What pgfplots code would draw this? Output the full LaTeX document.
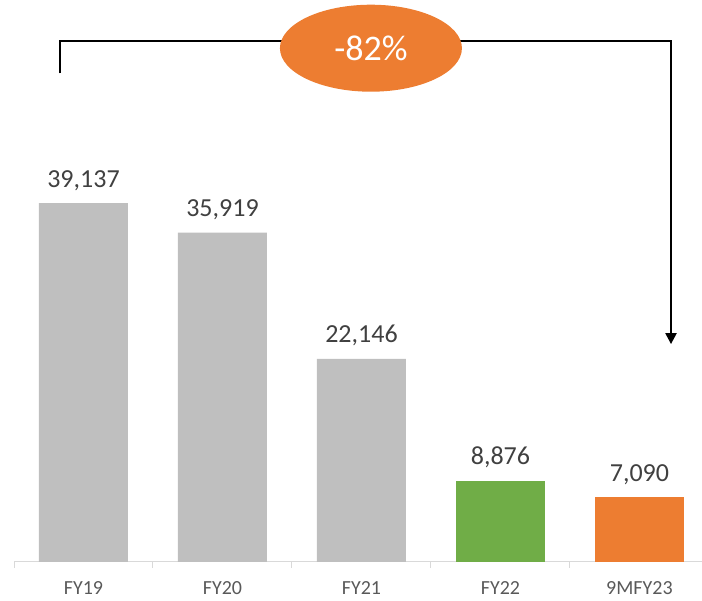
\documentclass[border=0pt]{standalone}
\usepackage{pgfplots}
\pgfplotsset{compat=1.18}
\usepackage{fontspec}
\setmainfont{Carlito}
\usetikzlibrary{arrows.meta}
\definecolor{bargray}{HTML}{BFBFBF}
\definecolor{bargreen}{HTML}{70AD47}
\definecolor{barorange}{HTML}{ED7D31}
\definecolor{numtext}{HTML}{404040}
\definecolor{cattext}{HTML}{595959}
\definecolor{axisgray}{HTML}{D9D9D9}
\begin{document}
\begin{tikzpicture}
\begin{axis}[
    name=ax,
    scale only axis,
    width=688pt, height=550pt,
    xmin=-0.5, xmax=4.45,
    ymin=0, ymax=60000,
    clip=false,
    axis x line*=bottom,
    axis y line=none,
    x axis line style={axisgray, line width=1pt},
    ybar, bar width=89pt, bar shift=0pt,
    xtick={0,1,2,3,4},
    xticklabels={FY19, FY20, FY21, FY22, 9MFY23},
    major tick length=0pt,
    minor xtick={-0.5,0.5,1.5,2.5,3.5},
    minor tick length=6pt,
    tick align=outside,
    minor tick style={axisgray, line width=1pt},
    xticklabel style={anchor=base, yshift=-33pt, inner sep=0pt, text=cattext,
        font=\fontsize{20}{24}\selectfont},
    ytick=\empty,
    nodes near coords,
    nodes near coords style={anchor=base, yshift=16pt, text=numtext,
        font=\fontsize{26}{30}\selectfont,
        /pgf/number format/.cd, fixed, 1000 sep={,}, assume math mode=true},
]
\addplot[fill=bargray, draw=none] coordinates {(0,39137) (1,35919) (2,22146)};
\addplot[fill=bargreen, draw=none] coordinates {(3,8876)};
\addplot[fill=barorange, draw=none] coordinates {(4,7090)};

% bracket arrow
\draw[black, line width=2.2pt, -{Triangle[length=11pt, width=11pt]}]
    (axis cs:-0.169,53300) -- (axis cs:-0.169,56800)
    -- (axis cs:4.227,56800) -- (axis cs:4.227,23770);
\fill[barorange] (axis cs:2.068,56050) ellipse [x radius=91pt, y radius=43.5pt];
\node[text=white, font=\fontsize{36}{40}\selectfont] at (axis cs:2.068,56050) {-82\%};
\end{axis}
\pgfresetboundingbox
\path[use as bounding box] ([xshift=-14pt, yshift=-39pt]ax.south west) rectangle ++(702pt,601pt);
\end{tikzpicture}
\end{document}
